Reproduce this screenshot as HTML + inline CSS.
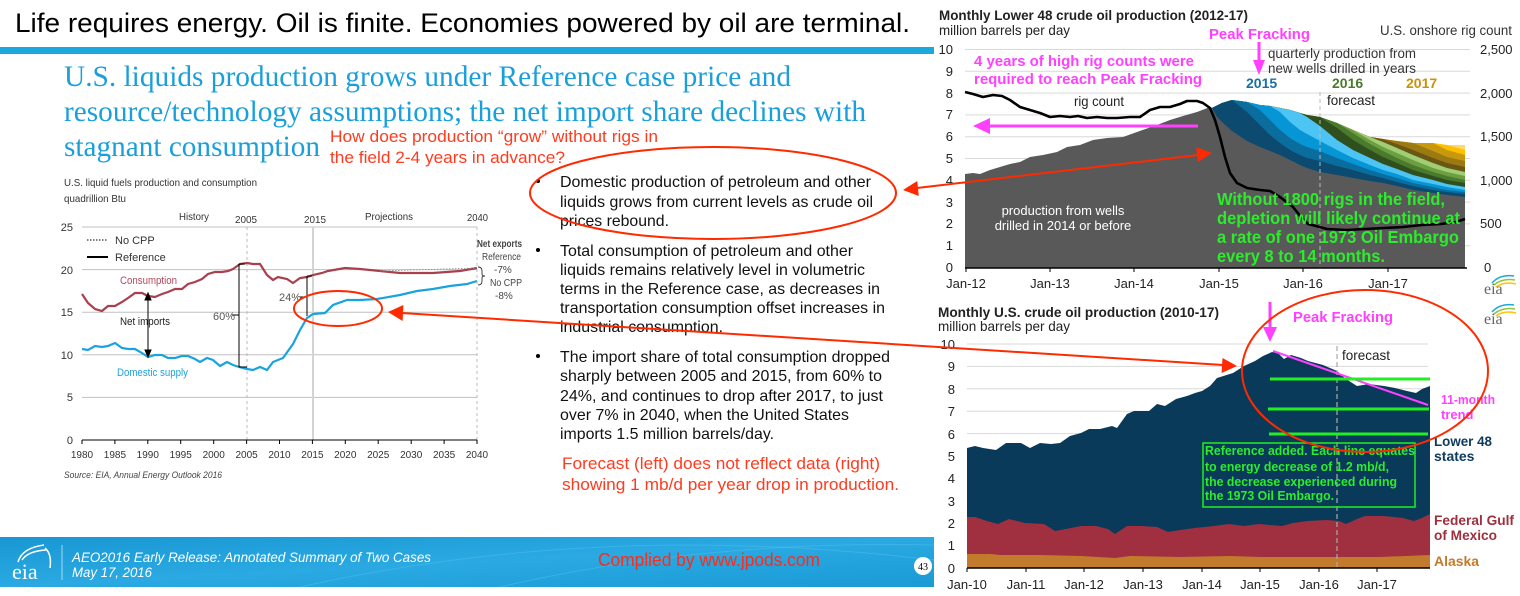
<!DOCTYPE html>
<html><head><meta charset="utf-8"><style>
html,body{margin:0;padding:0;background:#fff;}
svg{display:block;}
text{font-family:"Liberation Sans",Arial,sans-serif;}
.serif{font-family:"Liberation Serif","Times New Roman",serif;}
</style></head><body>
<svg width="1520" height="596" viewBox="0 0 1520 596" xmlns="http://www.w3.org/2000/svg">
<defs>
<linearGradient id="fg" x1="0" y1="0" x2="1" y2="1">
<stop offset="0" stop-color="#1897d3"/><stop offset="0.5" stop-color="#2aa9e2"/><stop offset="1" stop-color="#1a9bd6"/>
</linearGradient>
</defs>
<rect width="1520" height="596" fill="#fff"/>

<!-- Title -->
<text x="15" y="32" font-size="27" fill="#000" textLength="895" lengthAdjust="spacingAndGlyphs">Life requires energy. Oil is finite. Economies powered by oil are terminal.</text>
<rect x="0" y="47" width="934" height="7" fill="#1ca7dd"/>

<!-- Subtitle -->
<g class="serif" font-size="30" fill="#1a9fdb">
<text class="serif" x="64" y="86" textLength="727" lengthAdjust="spacingAndGlyphs">U.S. liquids production grows under Reference case price and</text>
<text class="serif" x="64" y="121" textLength="802" lengthAdjust="spacingAndGlyphs">resource/technology assumptions; the net import share declines with</text>
<text class="serif" x="64" y="156" textLength="256" lengthAdjust="spacingAndGlyphs">stagnant consumption</text>
</g>
<g font-size="17" fill="#ff3b1f">
<text x="330" y="142" textLength="328" lengthAdjust="spacingAndGlyphs">How does production “grow” without rigs in</text>
<text x="330" y="163" textLength="235" lengthAdjust="spacingAndGlyphs">the field 2-4 years in advance?</text>
</g>

<!-- LEFT CHART -->
<g font-size="10.5" fill="#333">
<text x="64" y="186" textLength="193" lengthAdjust="spacingAndGlyphs">U.S. liquid fuels production and consumption</text>
<text x="64" y="202" textLength="62" lengthAdjust="spacingAndGlyphs">quadrillion Btu</text>
<text x="179" y="220" textLength="30" lengthAdjust="spacingAndGlyphs">History</text>
<text x="235" y="223" textLength="22" lengthAdjust="spacingAndGlyphs">2005</text>
<text x="304" y="223" textLength="22" lengthAdjust="spacingAndGlyphs">2015</text>
<text x="365" y="220" textLength="48" lengthAdjust="spacingAndGlyphs">Projections</text>
<text x="467" y="221" textLength="21" lengthAdjust="spacingAndGlyphs">2040</text>
</g>
<g stroke="#c0c0c0" stroke-width="1">
<line x1="82" y1="227" x2="477" y2="227"/>
<line x1="82" y1="269.6" x2="477" y2="269.6"/>
<line x1="82" y1="312.2" x2="477" y2="312.2"/>
<line x1="82" y1="354.8" x2="477" y2="354.8"/>
<line x1="82" y1="397.4" x2="477" y2="397.4"/>
</g>
<line x1="247" y1="227" x2="247" y2="440" stroke="#bbb" stroke-dasharray="3,3"/>
<line x1="313" y1="227" x2="313" y2="440" stroke="#d4d4d4" stroke-width="2"/>
<line x1="477" y1="227" x2="477" y2="440" stroke="#bbb" stroke-dasharray="3,3"/>
<line x1="82" y1="440" x2="477" y2="440" stroke="#000" stroke-width="1"/>
<g stroke="#000" stroke-width="1">
<line x1="82" y1="440" x2="82" y2="444"/><line x1="114.9" y1="440" x2="114.9" y2="444"/><line x1="147.8" y1="440" x2="147.8" y2="444"/><line x1="180.7" y1="440" x2="180.7" y2="444"/><line x1="213.7" y1="440" x2="213.7" y2="444"/><line x1="246.6" y1="440" x2="246.6" y2="444"/><line x1="279.5" y1="440" x2="279.5" y2="444"/><line x1="312.4" y1="440" x2="312.4" y2="444"/><line x1="345.3" y1="440" x2="345.3" y2="444"/><line x1="378.2" y1="440" x2="378.2" y2="444"/><line x1="411.2" y1="440" x2="411.2" y2="444"/><line x1="444.1" y1="440" x2="444.1" y2="444"/><line x1="477" y1="440" x2="477" y2="444"/>
</g>
<g font-size="11" fill="#333" text-anchor="end">
<text x="73" y="231">25</text><text x="73" y="274">20</text><text x="73" y="316">15</text><text x="73" y="359">10</text><text x="73" y="401">5</text><text x="73" y="444">0</text>
</g>
<g font-size="10" fill="#333" text-anchor="middle">
<text x="82" y="458">1980</text><text x="114.9" y="458">1985</text><text x="147.8" y="458">1990</text><text x="180.7" y="458">1995</text><text x="213.7" y="458">2000</text><text x="246.6" y="458">2005</text><text x="279.5" y="458">2010</text><text x="312.4" y="458">2015</text><text x="345.3" y="458">2020</text><text x="378.2" y="458">2025</text><text x="411.2" y="458">2030</text><text x="444.1" y="458">2035</text><text x="477" y="458">2040</text>
</g>
<!-- legend -->
<line x1="87" y1="240" x2="108" y2="240" stroke="#333" stroke-width="1.2" stroke-dasharray="1.5,1.5"/>
<text x="115" y="244" font-size="11" fill="#333">No CPP</text>
<line x1="87" y1="257" x2="108" y2="257" stroke="#000" stroke-width="2"/>
<text x="115" y="261" font-size="11" fill="#333">Reference</text>
<!-- series -->
<polyline fill="none" stroke="#a8404f" stroke-width="2.2" points="82,294 88,303 95,309 102,311 108,306 115,306 122,302 128,298 135,293 142,293 148,296 155,297 162,294 168,292 175,289 182,289 188,284 195,282 202,279 208,274 215,272 222,272 228,271 233,269 240,264 247,263 253,264 260,264 267,275 273,280 278,277 287,279 293,283 300,278 307,277 313,275 322,273 328,271 345,268 360,269 380,271 400,273 433,273 460,271 477,268"/>
<polyline fill="none" stroke="#1ba3de" stroke-width="2.2" points="82,349 88,350 95,346 102,347 108,346 115,343 122,348 128,349 135,349 142,353 148,357 155,355 162,355 168,358 175,358 182,356 188,356 195,359 200,362 207,358 213,360 220,366 227,362 233,365 239,367 247,369 253,370 260,367 267,370 273,362 283,358 293,344 300,330 307,318 313,314 325,313 333,305 347,300 360,300 377,299 400,295 417,291 433,289 450,286 467,284 477,281"/>
<line x1="380" y1="271" x2="477" y2="268" stroke="#888" stroke-width="0.8" stroke-dasharray="1.5,1.5"/>
<!-- annotations -->
<g stroke="#000" stroke-width="1" fill="#000">
<line x1="148" y1="297" x2="148" y2="353"/>
<polygon points="148,293 145,300 151,300"/>
<polygon points="148,357 145,350 151,350"/>
<line x1="239" y1="264" x2="239" y2="367"/>
<line x1="239" y1="264" x2="245" y2="264"/>
<line x1="239" y1="367" x2="247" y2="367"/>
<line x1="232" y1="315" x2="239" y2="315"/>
<line x1="307" y1="276" x2="307" y2="316"/>
<line x1="307" y1="276" x2="312" y2="276"/>
<line x1="300" y1="297" x2="307" y2="297"/>
</g>
<path d="M478,267 q4,0 4,4 v3 q0,2 3,2 q-3,0 -3,2 v3 q0,4 -4,4" fill="none" stroke="#333" stroke-width="0.9"/>
<g font-size="11" fill="#555">
<text x="213" y="320">60%</text>
<text x="279" y="301">24%</text>
</g>
<text x="120" y="284" font-size="11" fill="#b5485a" textLength="57" lengthAdjust="spacingAndGlyphs">Consumption</text>
<text x="120" y="325" font-size="11" fill="#222" textLength="50" lengthAdjust="spacingAndGlyphs">Net imports</text>
<text x="117" y="376" font-size="11" fill="#1ba3de" textLength="71" lengthAdjust="spacingAndGlyphs">Domestic supply</text>
<g font-size="10" fill="#444">
<text x="477" y="247" font-weight="bold" textLength="45" lengthAdjust="spacingAndGlyphs">Net exports</text>
<text x="482" y="260" textLength="39" lengthAdjust="spacingAndGlyphs">Reference</text>
<text x="494" y="273">-7%</text>
<text x="490" y="286" textLength="32" lengthAdjust="spacingAndGlyphs">No CPP</text>
<text x="495" y="299">-8%</text>
</g>
<text x="64" y="478" font-size="9.5" font-style="italic" fill="#444" textLength="158" lengthAdjust="spacingAndGlyphs">Source:  EIA, Annual Energy Outlook 2016</text>

<!-- MIDDLE TEXT -->
<g fill="#000">
<circle cx="538" cy="181" r="2"/><circle cx="538" cy="250" r="2"/><circle cx="538" cy="356" r="2"/>
</g>
<g font-size="16" fill="#111">
<text x="560" y="187" textLength="311" lengthAdjust="spacingAndGlyphs">Domestic production of petroleum and other</text>
<text x="560" y="207" textLength="313" lengthAdjust="spacingAndGlyphs">liquids grows from current levels as crude oil</text>
<text x="560" y="226" textLength="109" lengthAdjust="spacingAndGlyphs">prices rebound.</text>
<text x="560" y="256" textLength="293" lengthAdjust="spacingAndGlyphs">Total consumption of petroleum and other</text>
<text x="560" y="275" textLength="305" lengthAdjust="spacingAndGlyphs">liquids remains relatively level in volumetric</text>
<text x="560" y="294" textLength="320" lengthAdjust="spacingAndGlyphs">terms in the Reference case, as decreases in</text>
<text x="560" y="313" textLength="325" lengthAdjust="spacingAndGlyphs">transportation consumption offset increases in</text>
<text x="560" y="332" textLength="163" lengthAdjust="spacingAndGlyphs">industrial consumption.</text>
<text x="560" y="362" textLength="330" lengthAdjust="spacingAndGlyphs">The import share of total consumption dropped</text>
<text x="560" y="381" textLength="322" lengthAdjust="spacingAndGlyphs">sharply between 2005 and 2015, from 60% to</text>
<text x="560" y="401" textLength="323" lengthAdjust="spacingAndGlyphs">24%, and continues to drop after 2017, to just</text>
<text x="560" y="420" textLength="289" lengthAdjust="spacingAndGlyphs">over 7% in 2040, when the United States</text>
<text x="560" y="439" textLength="214" lengthAdjust="spacingAndGlyphs">imports 1.5 million barrels/day.</text>
</g>
<g font-size="17" fill="#ff3b1f">
<text x="562" y="469" textLength="318" lengthAdjust="spacingAndGlyphs">Forecast (left) does not reflect data (right)</text>
<text x="562" y="490" textLength="337" lengthAdjust="spacingAndGlyphs">showing 1 mb/d per year drop in production.</text>
</g>

<!-- FOOTER -->
<rect x="0" y="537" width="934" height="50" fill="url(#fg)"/>
<path d="M300,587 Q600,520 934,560" stroke="#5cc6f0" stroke-width="1" fill="none" opacity="0.4"/>
<path d="M500,587 Q700,540 934,545" stroke="#5cc6f0" stroke-width="1" fill="none" opacity="0.4"/>
<g fill="none" stroke="#fff" stroke-width="1.5">
<path d="M18,562 Q22,548 44,545"/>
<path d="M22,560 Q28,551 46,550"/>
<path d="M45,548 Q52,554 50,568"/>
</g>
<text class="serif" x="12" y="579" font-size="22" fill="#fff">eia</text>
<line x1="62" y1="545" x2="62" y2="580" stroke="#fff" stroke-opacity="0.6" stroke-width="1"/>
<text x="72" y="562" font-size="14" font-style="italic" fill="#fff" textLength="359" lengthAdjust="spacingAndGlyphs">AEO2016 Early Release: Annotated Summary of Two Cases</text>
<text x="72" y="577" font-size="14" font-style="italic" fill="#fff" textLength="80" lengthAdjust="spacingAndGlyphs">May 17, 2016</text>
<text x="598" y="566" font-size="18" fill="#ff2a1a" textLength="222" lengthAdjust="spacingAndGlyphs">Complied by www.jpods.com</text>
<circle cx="923" cy="566" r="9" fill="#fff"/>
<text class="serif" x="923" y="570" font-size="10" fill="#000" text-anchor="middle">43</text>

<!-- TOP RIGHT CHART -->
<text x="939" y="20" font-size="14" font-weight="bold" fill="#222" textLength="309" lengthAdjust="spacingAndGlyphs">Monthly Lower 48 crude oil production (2012-17)</text>
<text x="939" y="35" font-size="14" fill="#222" textLength="131" lengthAdjust="spacingAndGlyphs">million barrels per day</text>
<text x="1512" y="35" font-size="13.5" fill="#333" text-anchor="end" textLength="132" lengthAdjust="spacingAndGlyphs">U.S. onshore rig count</text>
<g stroke="#d9d9d9" stroke-width="1">
<line x1="965" y1="49.5" x2="1470" y2="49.5"/><line x1="965" y1="71.3" x2="1470" y2="71.3"/><line x1="965" y1="93.1" x2="1470" y2="93.1"/><line x1="965" y1="114.9" x2="1470" y2="114.9"/><line x1="965" y1="136.7" x2="1470" y2="136.7"/><line x1="965" y1="158.5" x2="1470" y2="158.5"/><line x1="965" y1="180.3" x2="1470" y2="180.3"/><line x1="965" y1="202.1" x2="1470" y2="202.1"/><line x1="965" y1="223.9" x2="1470" y2="223.9"/><line x1="965" y1="245.7" x2="1470" y2="245.7"/>
</g>
<!-- bands -->
<polygon fill="#ffd966" points="1212,108 1222,103 1232,100 1247,102 1260,105 1270,106 1280,108 1290,110 1300,113 1307,115 1320,117 1337,123 1353,130 1370,137 1383,139 1397,141 1413,143 1433,143 1447,145 1465,145 1465,268 1212,268"/>
<polygon fill="#ffc000" points="1212,108 1222,103 1232,100 1247,102 1260,105 1270,106 1280,108 1290,110 1300,113 1307,115 1320,117 1337,123 1353,130 1370,137 1383,139 1397,141 1413,143 1433,143 1447,145 1465,150 1465,268 1212,268"/>
<polygon fill="#c8980e" points="1212,108 1222,103 1232,100 1247,102 1260,105 1270,106 1280,108 1290,110 1300,113 1307,115 1320,117 1337,123 1353,130 1370,137 1383,139 1397,141 1413,143 1433,143 1447,150 1465,155 1465,268 1212,268"/>
<polygon fill="#9c7a12" points="1212,108 1222,103 1232,100 1247,102 1260,105 1270,106 1280,108 1290,110 1300,113 1307,115 1320,117 1337,123 1353,130 1370,137 1383,139 1397,141 1413,143 1433,151 1447,157 1465,161 1465,268 1212,268"/>
<polygon fill="#6b5714" points="1212,108 1222,103 1232,100 1247,102 1260,105 1270,106 1280,108 1290,110 1300,113 1307,115 1320,117 1337,123 1353,130 1370,137 1383,139 1397,144 1413,150 1433,158 1447,163 1465,167 1465,268 1212,268"/>
<polygon fill="#9fcf75" points="1212,108 1222,103 1232,100 1247,102 1260,105 1270,106 1280,108 1290,110 1300,113 1307,115 1320,117 1337,123 1353,130 1370,137 1383,142 1397,148 1413,155 1433,163 1447,168 1465,172 1465,268 1212,268"/>
<polygon fill="#6d9f42" points="1212,108 1222,103 1232,100 1247,102 1260,105 1270,106 1280,108 1290,110 1300,113 1307,115 1320,117 1337,123 1353,130 1370,140 1383,147 1397,153 1413,160 1433,168 1447,172 1465,176 1465,268 1212,268"/>
<polygon fill="#4a7a2c" points="1212,108 1222,103 1232,100 1247,102 1260,105 1270,106 1280,108 1290,110 1300,113 1307,115 1320,117 1337,123 1353,133 1370,144 1383,151 1397,158 1413,165 1433,172 1447,176 1465,180 1465,268 1212,268"/>
<polygon fill="#2f4f1f" points="1212,108 1222,103 1232,100 1247,102 1260,105 1270,106 1280,108 1290,110 1300,113 1307,115 1320,117 1337,128 1353,140 1370,150 1383,157 1397,163 1413,170 1433,176 1447,180 1465,183 1465,268 1212,268"/>
<polygon fill="#4cc4f4" points="1212,108 1222,103 1232,100 1247,102 1260,105 1270,106 1280,108 1290,110 1300,113 1307,117 1320,126 1337,140 1353,150 1370,158 1383,164 1397,169 1413,175 1433,180 1447,184 1465,187 1465,268 1212,268"/>
<polygon fill="#0796d5" points="1212,108 1222,103 1232,100 1247,102 1260,105 1270,106 1280,112 1290,122 1300,130 1307,134 1320,141 1337,150 1353,158 1370,165 1383,170 1397,174 1413,180 1433,184 1447,187 1465,190 1465,268 1212,268"/>
<polygon fill="#0a6d9e" points="1212,108 1222,103 1232,100 1247,102 1260,110 1270,120 1280,130 1290,138 1300,144 1307,147 1320,151 1337,158 1353,164 1370,170 1383,174 1397,178 1413,183 1433,187 1447,190 1465,192 1465,268 1212,268"/>
<polygon fill="#0d4a70" points="1212,108 1222,103 1232,100 1247,112 1260,125 1270,135 1280,143 1290,150 1300,155 1307,158 1320,161 1337,166 1353,170 1370,175 1383,178 1397,182 1413,186 1433,190 1447,192 1465,194 1465,268 1212,268"/>
<polygon fill="#595959" points="965,174 973,173 980,174 990,170 1000,167 1010,164 1020,162 1030,157 1043,155 1057,152 1067,147 1080,145 1093,140 1107,138 1123,137 1137,132 1157,125 1170,120 1183,116 1197,112 1210,107 1212,108 1217,117 1222,122 1232,131 1247,141 1260,147 1270,151 1280,155 1290,160 1300,165 1307,168 1320,172 1337,175 1353,178 1370,181 1383,183 1397,186 1413,190 1433,193 1447,195 1465,197 1465,268 965,268"/>
<line x1="1320" y1="92" x2="1320" y2="268" stroke="#bbb" stroke-width="1" stroke-dasharray="4,3"/>
<!-- rig count -->
<polyline fill="none" stroke="#000" stroke-width="2.6" stroke-linejoin="round" points="965,92 973,94 983,97 993,95 1002,96 1010,100 1020,107 1030,110 1040,113 1050,117 1060,116 1070,117 1078,116 1087,118 1097,117 1107,118 1117,118 1130,117 1140,117 1150,110 1160,107 1170,107 1180,104 1187,101 1197,101 1203,103 1210,108 1215,120 1220,137 1225,157 1230,173 1237,183 1247,188 1260,190 1270,191 1280,197 1293,207 1301,217 1308,224 1316,226 1327,229 1346,230 1365,229 1384,228 1403,227 1422,225 1441,224 1456,222 1465,219"/>
<line x1="965" y1="268" x2="1467" y2="268" stroke="#000" stroke-width="1.5"/>
<g stroke="#000" stroke-width="1">
<line x1="966" y1="268" x2="966" y2="272"/><line x1="1050" y1="268" x2="1050" y2="272"/><line x1="1134" y1="268" x2="1134" y2="272"/><line x1="1219" y1="268" x2="1219" y2="272"/><line x1="1303" y1="268" x2="1303" y2="272"/><line x1="1388" y1="268" x2="1388" y2="272"/>
</g>
<g font-size="13" fill="#222" text-anchor="end">
<text x="953" y="54">10</text><text x="953" y="76">9</text><text x="953" y="98">8</text><text x="953" y="119">7</text><text x="953" y="141">6</text><text x="953" y="163">5</text><text x="953" y="185">4</text><text x="953" y="207">3</text><text x="953" y="228">2</text><text x="953" y="250">1</text><text x="953" y="272">0</text>
</g>
<g font-size="13" fill="#222">
<text x="1480" y="54">2,500</text><text x="1480" y="98">2,000</text><text x="1480" y="141">1,500</text><text x="1480" y="185">1,000</text><text x="1480" y="228">500</text><text x="1484" y="272">0</text>
</g>
<g font-size="13" fill="#222" text-anchor="middle">
<text x="966" y="288">Jan-12</text><text x="1050" y="288">Jan-13</text><text x="1134" y="288">Jan-14</text><text x="1219" y="288">Jan-15</text><text x="1303" y="288">Jan-16</text><text x="1388" y="288">Jan-17</text>
</g>
<text x="1074" y="106" font-size="14" fill="#222" textLength="50" lengthAdjust="spacingAndGlyphs">rig count</text>
<text x="1268" y="58" font-size="14" fill="#333" textLength="148" lengthAdjust="spacingAndGlyphs">quarterly production from</text>
<text x="1268" y="73" font-size="14" fill="#333" textLength="148" lengthAdjust="spacingAndGlyphs">new wells drilled in years</text>
<g font-size="14" font-weight="bold">
<text x="1246" y="88" fill="#1a6fa5">2015</text>
<text x="1332" y="88" fill="#4a7a2a">2016</text>
<text x="1406" y="88" fill="#c8920a">2017</text>
</g>
<text x="1327" y="105" font-size="14" fill="#222" textLength="48" lengthAdjust="spacingAndGlyphs">forecast</text>
<text x="1063" y="215" font-size="13" fill="#fff" text-anchor="middle">production from wells</text>
<text x="1063" y="230" font-size="13" fill="#fff" text-anchor="middle">drilled in 2014 or before</text>
<g font-size="15" font-weight="bold" fill="#ff40ff">
<text x="1209" y="39" textLength="101" lengthAdjust="spacingAndGlyphs">Peak Fracking</text>
<text x="974" y="66" textLength="220" lengthAdjust="spacingAndGlyphs">4 years of high rig counts were</text>
<text x="974" y="84" textLength="228" lengthAdjust="spacingAndGlyphs">required to reach Peak Fracking</text>
</g>
<line x1="1259" y1="42" x2="1259" y2="62" stroke="#ff40ff" stroke-width="3"/>
<polygon points="1253,60 1265,60 1259,75" fill="#ff40ff"/>
<line x1="988" y1="126" x2="1198" y2="126" stroke="#ff40ff" stroke-width="3"/>
<polygon points="973,126 990,118 990,134" fill="#ff40ff"/>
<g font-size="17.5" font-weight="bold" fill="#2cec2c">
<text x="1217" y="205" textLength="228" lengthAdjust="spacingAndGlyphs">Without 1800 rigs in the field,</text>
<text x="1217" y="224" textLength="243" lengthAdjust="spacingAndGlyphs">depletion will likely continue at</text>
<text x="1217" y="243" textLength="242" lengthAdjust="spacingAndGlyphs">a rate of one 1973 Oil Embargo</text>
<text x="1217" y="262" textLength="168" lengthAdjust="spacingAndGlyphs">every 8 to 14 months.</text>
</g>
<!-- eia logo top -->
<g fill="none" stroke-width="1.5">
<path d="M1492,283 Q1500,274 1514,276" stroke="#1ca7dd"/>
<path d="M1494,285 Q1502,278 1515,280" stroke="#8dc63f"/>
<path d="M1496,287 Q1504,281 1516,284" stroke="#ffc20e"/>
</g>
<text class="serif" x="1484" y="294" font-size="16" fill="#666">eia</text>

<!-- BOTTOM RIGHT CHART -->
<text x="938" y="317" font-size="14" font-weight="bold" fill="#222" textLength="281" lengthAdjust="spacingAndGlyphs">Monthly U.S. crude oil production (2010-17)</text>
<text x="938" y="331" font-size="14" fill="#222" textLength="132" lengthAdjust="spacingAndGlyphs">million barrels per day</text>
<g fill="none" stroke-width="1.5">
<path d="M1492,312 Q1500,303 1514,305" stroke="#1ca7dd"/>
<path d="M1494,314 Q1502,307 1515,309" stroke="#8dc63f"/>
<path d="M1496,316 Q1504,310 1516,313" stroke="#ffc20e"/>
</g>
<text class="serif" x="1484" y="324" font-size="16" fill="#666">eia</text>
<g stroke="#d9d9d9" stroke-width="1">
<line x1="967" y1="344" x2="1428" y2="344"/><line x1="967" y1="366.4" x2="1428" y2="366.4"/><line x1="967" y1="388.8" x2="1428" y2="388.8"/><line x1="967" y1="411.2" x2="1428" y2="411.2"/><line x1="967" y1="433.6" x2="1428" y2="433.6"/>
</g>
<polygon fill="#0a3a5a" points="967,448 975,446 983,448 996,450 1006,443 1021,443 1030,448 1040,443 1051,444 1060,443 1070,436 1081,433 1089,429 1100,429 1112,426 1117,428 1127,414 1134,411 1149,411 1157,404 1165,406 1176,399 1187,396 1195,393 1202,391 1210,386 1217,378 1233,373 1244,366 1255,361 1263,356 1272,352 1278,353 1284,359 1291,355 1301,358 1308,361 1323,365 1337,371 1346,379 1357,386 1369,384 1384,386 1395,388 1407,391 1416,393 1422,389 1430,386 1430,568 967,568"/>
<polygon fill="#a0303f" points="967,517 975,517 987,521 998,524 1009,519 1025,523 1044,524 1055,531 1066,529 1081,526 1096,526 1108,529 1115,534 1127,526 1142,526 1157,527 1168,532 1180,530 1195,528 1214,526 1229,524 1244,526 1259,524 1270,525 1282,526 1293,523 1308,521 1327,520 1339,521 1346,524 1357,519 1365,516 1384,516 1403,518 1414,521 1422,518 1430,514 1430,568 967,568"/>
<polygon fill="#c27b2c" points="967,554 990,554 1000,555 1040,555 1081,556 1115,558 1130,556 1180,557 1230,556 1260,557 1300,557 1340,557 1380,557 1430,555 1430,568 967,568"/>
<line x1="1337" y1="346" x2="1337" y2="568" stroke="#aaa" stroke-width="1.2" stroke-dasharray="5,3"/>
<line x1="967" y1="568" x2="1430" y2="568" stroke="#000" stroke-width="1.5"/>
<g stroke="#000" stroke-width="1">
<line x1="967" y1="568" x2="967" y2="572"/><line x1="1026" y1="568" x2="1026" y2="572"/><line x1="1084" y1="568" x2="1084" y2="572"/><line x1="1143" y1="568" x2="1143" y2="572"/><line x1="1202" y1="568" x2="1202" y2="572"/><line x1="1260" y1="568" x2="1260" y2="572"/><line x1="1319" y1="568" x2="1319" y2="572"/><line x1="1377" y1="568" x2="1377" y2="572"/>
</g>
<g font-size="13" fill="#222" text-anchor="end">
<text x="955" y="349">10</text><text x="955" y="371">9</text><text x="955" y="394">8</text><text x="955" y="416">7</text><text x="955" y="439">6</text><text x="955" y="461">5</text><text x="955" y="483">4</text><text x="955" y="506">3</text><text x="955" y="528">2</text><text x="955" y="550">1</text><text x="955" y="573">0</text>
</g>
<g font-size="13" fill="#222" text-anchor="middle">
<text x="967" y="589">Jan-10</text><text x="1026" y="589">Jan-11</text><text x="1084" y="589">Jan-12</text><text x="1143" y="589">Jan-13</text><text x="1202" y="589">Jan-14</text><text x="1260" y="589">Jan-15</text><text x="1319" y="589">Jan-16</text><text x="1377" y="589">Jan-17</text>
</g>
<text x="1342" y="360" font-size="14" fill="#222" textLength="48" lengthAdjust="spacingAndGlyphs">forecast</text>
<line x1="1273" y1="351" x2="1428" y2="405" stroke="#ff40ff" stroke-width="2"/>
<g stroke="#22ee22" stroke-width="3">
<line x1="1270" y1="379" x2="1430" y2="379"/>
<line x1="1268" y1="409" x2="1429" y2="409"/>
<line x1="1269" y1="434" x2="1428" y2="434"/>
</g>
<rect x="1203" y="443" width="212" height="64" fill="none" stroke="#22ee22" stroke-width="1.5"/>
<g font-size="13" font-weight="bold" fill="#2cec2c">
<text x="1205" y="455" textLength="210" lengthAdjust="spacingAndGlyphs">Reference added. Each line equates</text>
<text x="1205" y="471" textLength="184" lengthAdjust="spacingAndGlyphs">to energy decrease of 1.2 mb/d,</text>
<text x="1205" y="486" textLength="192" lengthAdjust="spacingAndGlyphs">the decrease experienced during</text>
<text x="1205" y="500" textLength="129" lengthAdjust="spacingAndGlyphs">the 1973 Oil Embargo.</text>
</g>
<g font-size="15" font-weight="bold" fill="#ff40ff">
<text x="1293" y="322" textLength="100" lengthAdjust="spacingAndGlyphs">Peak Fracking</text>
</g>
<g font-size="13" font-weight="bold" fill="#ff40ff">
<text x="1441" y="404" textLength="54" lengthAdjust="spacingAndGlyphs">11-month</text>
<text x="1441" y="419">trend</text>
</g>
<line x1="1270" y1="302" x2="1270" y2="329" stroke="#ff40ff" stroke-width="3"/>
<polygon points="1263,327 1277,327 1270,342" fill="#ff40ff"/>
<g font-size="14" font-weight="bold">
<text x="1434" y="446" fill="#0d3b5c" textLength="58" lengthAdjust="spacingAndGlyphs">Lower 48</text>
<text x="1434" y="461" fill="#0d3b5c">states</text>
<text x="1434" y="525" fill="#9e2f3c" textLength="80" lengthAdjust="spacingAndGlyphs">Federal Gulf</text>
<text x="1434" y="540" fill="#9e2f3c" textLength="63" lengthAdjust="spacingAndGlyphs">of Mexico</text>
<text x="1434" y="566" fill="#c27b2c" textLength="45" lengthAdjust="spacingAndGlyphs">Alaska</text>
</g>

<!-- RED ANNOTATIONS -->
<g fill="none" stroke="#ff2a00" stroke-width="2">
<ellipse cx="338" cy="308.5" rx="44" ry="17.5"/>
<ellipse cx="713" cy="193" rx="183" ry="46"/>
<ellipse cx="1365" cy="371" rx="123" ry="81"/>
<line x1="402" y1="313" x2="1223" y2="365"/>
<line x1="917" y1="188" x2="1198" y2="155"/>
</g>
<g fill="#ff2a00">
<polygon points="388,312 403.4,305 402.6,321"/>
<polygon points="1237,366 1221.6,373 1222.5,358"/>
<polygon points="903,190 918.8,196 917.2,181"/>
<polygon points="1212,153 1197.8,162 1196.2,147"/>
</g>
</svg>
</body></html>
